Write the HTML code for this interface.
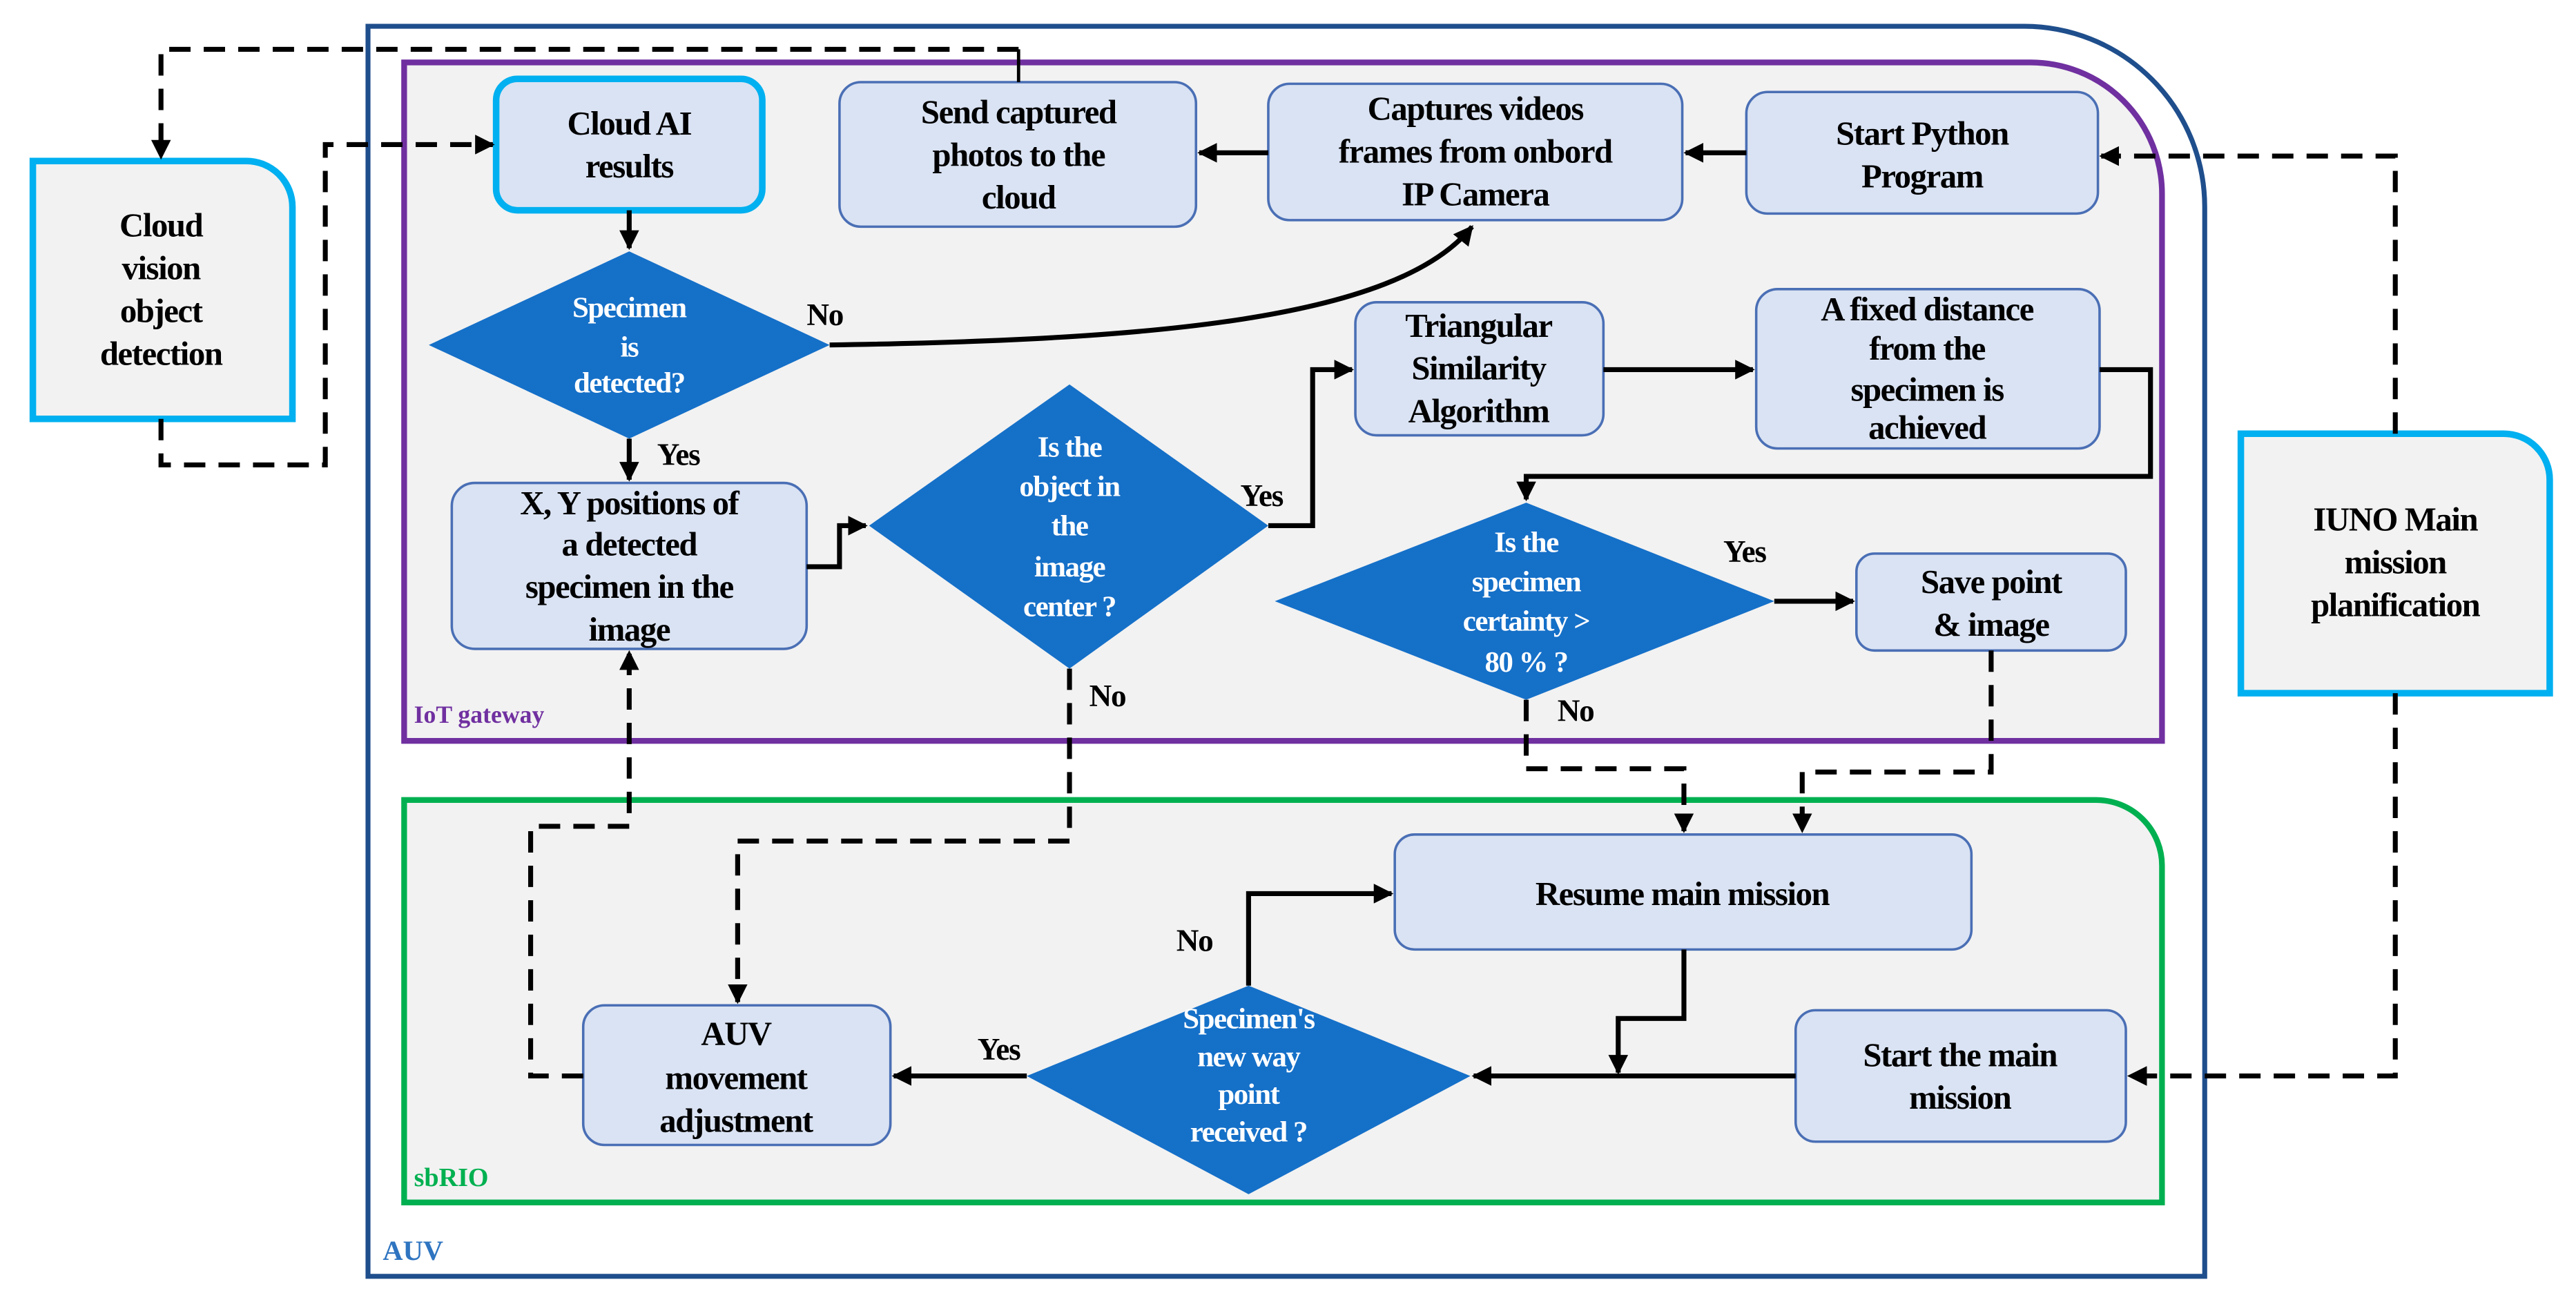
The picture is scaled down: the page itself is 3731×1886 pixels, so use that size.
<!DOCTYPE html>
<html><head><meta charset="utf-8"><style>
html,body{margin:0;padding:0;background:#fff;}
svg{display:block;}
svg text{font-family:"Liberation Serif","DejaVu Serif",serif !important;font-weight:bold;}
.t{font-size:20.5px;fill:#000;text-anchor:middle;letter-spacing:-0.6px;}
.w{font-size:18px;fill:#fff;text-anchor:middle;letter-spacing:-0.6px;}
.l{font-size:19px;fill:#000;letter-spacing:-0.5px;}
.box{fill:#dae3f3;stroke:#4a6fb5;stroke-width:1.5;}
.dia{fill:#1570c8;}
.s{fill:none;stroke:#000;stroke-width:3;}
.d{fill:none;stroke:#000;stroke-width:3;stroke-dasharray:13 8;}
</style></head><body>
<svg width="3731" height="1886" viewBox="0 0 1568 792.6" xmlns="http://www.w3.org/2000/svg" font-family="Liberation Serif, DejaVu Serif, serif">
<defs>
<marker id="a" viewBox="0 0 10 10" refX="9" refY="5" markerWidth="4" markerHeight="4" orient="auto" markerUnits="strokeWidth">
<path d="M0,0 L10,5 L0,10 z" fill="#000"/></marker>
</defs>
<rect width="1568" height="792.6" fill="#fff"/>
<path d="M224,777 V16 H1232 A110,110 0 0 1 1342,126 V777 Z" fill="#fff" stroke="#1f4e8c" stroke-width="3"/>
<text x="233" y="767" style="font-size:17px;fill:#2e74c0;">AUV</text>
<path d="M246,451 V38 H1236 A80,80 0 0 1 1316,118 V451 Z" fill="#f2f2f2" stroke="#7030a0" stroke-width="3.5"/>
<text x="252" y="440" style="font-size:15px;fill:#7030a0;">IoT gateway</text>
<path d="M246,732 V487 H1276 A40,40 0 0 1 1316,527 V732 Z" fill="#f2f2f2" stroke="#00b050" stroke-width="3.5"/>
<text x="252" y="722" style="font-size:16px;fill:#00b050;">sbRIO</text>

<path d="M20,255 V98 H150 A28,28 0 0 1 178,126 V255 Z" fill="#f2f2f2" stroke="#00b0f0" stroke-width="4"/>
<text class="t" x="98" y="144">Cloud</text>
<text class="t" x="98" y="170">vision</text>
<text class="t" x="98" y="196">object</text>
<text class="t" x="98" y="222">detection</text>
<path d="M1364,422 V264 H1524 A28,28 0 0 1 1552,292 V422 Z" fill="#f2f2f2" stroke="#00b0f0" stroke-width="4"/>
<text class="t" x="1458" y="323">IUNO Main</text>
<text class="t" x="1458" y="349">mission</text>
<text class="t" x="1458" y="375">planification</text>

<rect x="302" y="48" width="162" height="80" rx="13" fill="#dae3f3" stroke="#00b0f0" stroke-width="4"/>
<text class="t" x="383" y="82">Cloud AI</text>
<text class="t" x="383" y="108">results</text>

<rect class="box" x="511" y="50" width="217" height="88" rx="13"/>
<text class="t" x="620" y="75">Send captured</text>
<text class="t" x="620" y="101">photos to the</text>
<text class="t" x="620" y="127">cloud</text>

<rect class="box" x="772" y="51" width="252" height="83" rx="13"/>
<text class="t" x="898" y="73">Captures videos</text>
<text class="t" x="898" y="99">frames from onbord</text>
<text class="t" x="898" y="125">IP Camera</text>

<rect class="box" x="1063" y="56" width="214" height="74" rx="13"/>
<text class="t" x="1170" y="88">Start Python</text>
<text class="t" x="1170" y="114">Program</text>

<rect class="box" x="275" y="294" width="216" height="101" rx="14"/>
<text class="t" x="383" y="313">X, Y positions of</text>
<text class="t" x="383" y="338">a detected</text>
<text class="t" x="383" y="364">specimen in the</text>
<text class="t" x="383" y="390">image</text>

<rect class="box" x="825" y="184" width="151" height="81" rx="13"/>
<text class="t" x="900" y="205">Triangular</text>
<text class="t" x="900" y="231">Similarity</text>
<text class="t" x="900" y="257">Algorithm</text>

<rect class="box" x="1069" y="176" width="209" height="97" rx="13"/>
<text class="t" x="1173" y="195">A fixed distance</text>
<text class="t" x="1173" y="219">from the</text>
<text class="t" x="1173" y="244">specimen is</text>
<text class="t" x="1173" y="267">achieved</text>

<rect class="box" x="1130" y="337" width="164" height="59" rx="11"/>
<text class="t" x="1212" y="361">Save point</text>
<text class="t" x="1212" y="387">&amp; image</text>

<rect class="box" x="849" y="508" width="351" height="70" rx="12"/>
<text class="t" x="1024" y="551">Resume main mission</text>

<rect class="box" x="1093" y="615" width="201" height="80" rx="12"/>
<text class="t" x="1193" y="649">Start the main</text>
<text class="t" x="1193" y="675">mission</text>

<rect class="box" x="355" y="612" width="187" height="85" rx="13"/>
<text class="t" x="448" y="636">AUV</text>
<text class="t" x="448" y="663">movement</text>
<text class="t" x="448" y="689">adjustment</text>

<polygon class="dia" points="383,153 505,210 383,267 261,210"/>
<text class="w" x="383" y="193">Specimen</text>
<text class="w" x="383" y="217">is</text>
<text class="w" x="383" y="239">detected?</text>

<polygon class="dia" points="651,234 772,320 651,407 529,320"/>
<text class="w" x="651" y="278">Is the</text>
<text class="w" x="651" y="302">object in</text>
<text class="w" x="651" y="326">the</text>
<text class="w" x="651" y="351">image</text>
<text class="w" x="651" y="375">center ?</text>

<polygon class="dia" points="929,306 1080,366 929,426 776,366"/>
<text class="w" x="929" y="336">Is the</text>
<text class="w" x="929" y="360">specimen</text>
<text class="w" x="929" y="384">certainty &gt;</text>
<text class="w" x="929" y="409">80 % ?</text>

<polygon class="dia" points="760,600 895,655 760,727 625,655"/>
<text class="w" x="760" y="626">Specimen's</text>
<text class="w" x="760" y="649">new way</text>
<text class="w" x="760" y="672">point</text>
<text class="w" x="760" y="695">received ?</text>

<path class="s" d="M383,128 V151" marker-end="url(#a)"/>
<path class="s" d="M505,210 C700,207 850,195 896,138" marker-end="url(#a)"/>
<path class="s" d="M383,267 V292" marker-end="url(#a)"/>
<path class="s" d="M491,345 H511 V320 H527" marker-end="url(#a)"/>
<path class="s" d="M772,320 H799 V225 H823" marker-end="url(#a)"/>
<path class="s" d="M976,225 H1067" marker-end="url(#a)"/>
<path class="s" d="M1278,225 H1309 V290 H929 V304" marker-end="url(#a)"/>
<path class="s" d="M1080,366 H1128" marker-end="url(#a)"/>
<path class="s" d="M1063,93 H1026" marker-end="url(#a)"/>
<path class="s" d="M772,93 H730" marker-end="url(#a)"/>
<path class="s" d="M1093,655 H897" marker-end="url(#a)"/>
<path class="s" d="M1025,578 V620 H985 V653" marker-end="url(#a)"/>
<path class="s" d="M760,600 V544 H847" marker-end="url(#a)"/>
<path class="s" d="M625,655 H544" marker-end="url(#a)"/>
<path fill="none" stroke="#000" stroke-width="2" d="M620,50 V30"/>

<path class="d" d="M620,30 H98 V96" marker-end="url(#a)"/>
<path class="d" d="M98,255 V283 H198 V88 H300" marker-end="url(#a)"/>
<path class="d" d="M1458,264 V95 H1279" marker-end="url(#a)"/>
<path class="d" d="M1458,422 V655 H1296" marker-end="url(#a)"/>
<path class="d" d="M651,407 V512 H449 V610" marker-end="url(#a)"/>
<path class="d" d="M355,655 H323 V503 H383 V397" marker-end="url(#a)"/>
<path class="d" d="M929,426 V468 H1025 V506" marker-end="url(#a)"/>
<path class="d" d="M1212,396 V470 H1097 V506" marker-end="url(#a)"/>

<text class="l" x="491" y="198">No</text>
<text class="l" x="400" y="283">Yes</text>
<text class="l" x="755" y="308">Yes</text>
<text class="l" x="663" y="430">No</text>
<text class="l" x="1049" y="342">Yes</text>
<text class="l" x="948" y="439">No</text>
<text class="l" x="716" y="579">No</text>
<text class="l" x="595" y="645">Yes</text>
</svg>
</body></html>
